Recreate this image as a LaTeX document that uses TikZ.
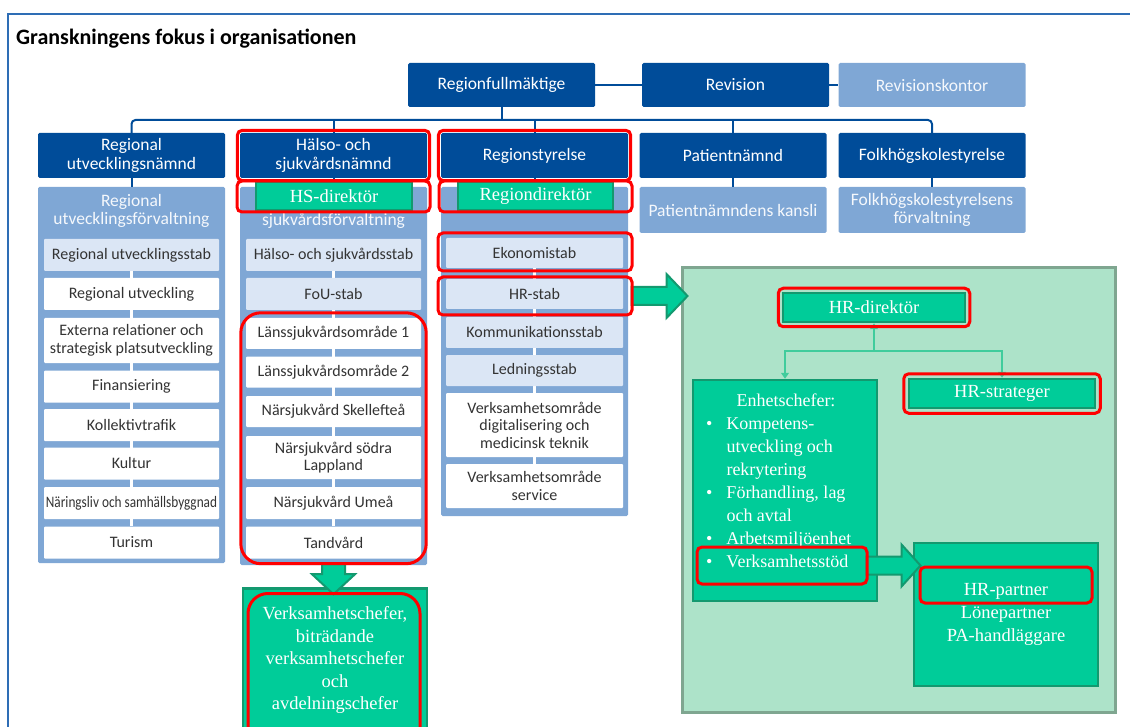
\documentclass[tikz,border=0pt]{standalone}
\usepackage{fontspec}
\setmainfont{Liberation Serif}
\setsansfont{Carlito}
\usepackage{graphicx}
\usepackage{tikz}
\usetikzlibrary{positioning,arrows.meta,fit,backgrounds}
\definecolor{morkbla}{HTML}{004C99}
\definecolor{ljusbla}{HTML}{7FA7D5}
\definecolor{blekbla}{HTML}{DBE6F5}
\definecolor{ramblaa}{HTML}{2E6DB5}
\definecolor{gron}{HTML}{00CC99}
\definecolor{morkgron}{HTML}{13996F}
\definecolor{ljusgron}{HTML}{ADE3C9}
\definecolor{grakant}{HTML}{7FA690}
\definecolor{linjegron}{HTML}{40CC9C}
\definecolor{textgra}{HTML}{333333}
\definecolor{markrod}{HTML}{FF0000}
\pgfdeclarelayer{forgrunn}
\pgfsetlayers{background,main,forgrunn}

\begin{document}
\begin{tikzpicture}[x=1pt,y=-1pt,>={Triangle[length=6pt,width=8pt]}]
    \tikzset{
        namnd/.style={
            fill=morkbla,
            text=white,
            rounded corners=1.5pt,
            minimum width=187,
            minimum height=45,
            inner sep=0,
            align=center,
            font=\sffamily\fontsize{17.5}{18.5}\selectfont
        },
        forv/.style={
            namnd,
            fill=ljusbla,
            text=white!92!ljusbla
        },
        panel/.style={
            fill=ljusbla,
            rounded corners=1.5pt,
            minimum width=187,
            inner sep=0
        },
        panelrubrik/.style={
            text=white!92!ljusbla,
            align=center,
            inner sep=0,
            font=\sffamily\fontsize{17.5}{18.5}\selectfont
        },
        enhet/.style={
            fill=white,
            text=textgra,
            rounded corners=1pt,
            minimum width=175,
            minimum height=32,
            inner sep=0,
            align=center,
            font=\sffamily\fontsize{16}{17.5}\selectfont
        },
        stab/.style={
            enhet,
            fill=blekbla
        },
        buss/.style={
            draw=morkbla,
            line width=2pt
        },
        vitlinje/.style={
            draw=white,
            line width=3pt
        },
        markering/.style={
            draw=markrod,
            line width=3pt,
            rounded corners=5pt,
            inner sep=0
        },
        gronbox/.style={
            fill=gron,
            draw=morkgron,
            line width=2.5pt,
            text=white,
            inner sep=0,
            align=center,
            font=\rmfamily\fontsize{18.5}{23}\selectfont
        },
        gronfont/.style={
            text=white,
            inner sep=0,
            align=center,
            font=\rmfamily\fontsize{18}{23}\selectfont
        },
        blockpil/.style={
            fill=gron,
            draw=morkgron,
            line width=2pt
        },
        hrram/.style={
            fill=ljusgron,
            draw=grakant,
            line width=3pt,
            inner sep=0
        },
        hrlinje/.style={
            draw=linjegron,
            line width=1.2pt
        }
    }
    \useasboundingbox (0,0) rectangle (1130,727);

    % Ram och rubrik
    \draw[draw=ramblaa, line width=2pt] (8,740) |- (1140,14);
    \node[anchor=west, inner sep=0, font=\sffamily\bfseries\fontsize{22}{24}\selectfont] (tittel) at (16,39) {Granskningens fokus i organisationen};

    % Fullmaktige och revision
    \node[namnd, minimum height=44] (fullm) at (501.5,85) {Regionfullmäktige};
    \node[namnd, minimum height=44] (rev)   at (735.5,85) {Revision};
    \node[forv, minimum height=44]  (revk)  at (932,85)   {Revisionskontor};

    % Namnder
    \node[namnd] (rutn)  at (131.5,155.5) {Regional\\utvecklingsnämnd};
    \node[namnd] (hsn)   at (333.5,155.5) {Hälso- och\\sjukvårdsnämnd};
    \node[namnd] (rs)    at (534.5,155.5) {Regionstyrelse};
    \node[namnd] (patn)  at (733,155.5)   {Patientnämnd};
    \node[namnd] (folkn) at (932,155.5)   {Folkhögskolestyrelse};

    % Forvaltningar
    \node[forv, minimum height=46] (patf)  at (733,210) {Patientnämndens kansli};
    \node[forv, minimum height=46] (folkf) at (932,210) {Folkhögskolestyrelsens\\förvaltning};
    \node[panelrubrik] (rutft) at (131.5,211) {Regional\\utvecklingsförvaltning};
    \node[panelrubrik] (hsft)  at (333.5,212) {Hälso- och\\sjukvårdsförvaltning};
    \node[panelrubrik] (rsft)  at (534.5,202) {Regionförvaltning};

    % Regional utvecklingsforvaltning
    \node[stab]  (ru1) at (131.5,255)   {Regional utvecklingsstab};
    \node[enhet] (ru2) at (131.5,294)   {Regional utveckling};
    \node[enhet, minimum height=45] (ru3) at (131.5,340.5) {Externa relationer och\\strategisk platsutveckling};
    \node[enhet] (ru4) at (131.5,386.5) {Finansiering};
    \node[enhet] (ru5) at (131.5,425)   {Kollektivtrafik};
    \node[enhet] (ru6) at (131.5,463.5) {Kultur};
    \node[enhet] (ru7) at (131.5,503)   {\scalebox{0.83}[1]{Näringsliv och samhällsbyggnad}};
    \node[enhet] (ru8) at (131.5,542.5) {Turism};

    % Halso- och sjukvardsforvaltning
    \node[stab]  (hs1) at (333.5,255)   {Hälso- och sjukvårdsstab};
    \node[stab]  (hs2) at (333.5,294)   {FoU-stab};
    \node[enhet, minimum height=31] (hs3) at (333.5,333.5) {Länssjukvårdsområde 1};
    \node[enhet, minimum height=31] (hs4) at (333.5,372)   {Länssjukvårdsområde 2};
    \node[enhet, minimum height=31] (hs5) at (333.5,411.5) {Närsjukvård Skellefteå};
    \node[enhet, minimum height=43] (hs6) at (333.5,457.5) {Närsjukvård södra\\Lappland};
    \node[enhet] (hs7) at (333.5,503)   {Närsjukvård Umeå};
    \node[enhet] (hs8) at (333.5,542.5) {Tandvård};

    % Regionforvaltning
    \node[stab, minimum width=177, minimum height=30] (rf1) at (534.5,253)   {Ekonomistab};
    \node[stab, minimum width=177, minimum height=30] (rf2) at (534.5,294)   {HR-stab};
    \node[stab, minimum width=177, minimum height=31] (rf3) at (534.5,332.5) {Kommunikationsstab};
    \node[stab, minimum width=177, minimum height=31] (rf4) at (534.5,370.5) {Ledningsstab};
    \node[enhet, minimum width=177, minimum height=64] (rf5) at (534.5,425) {Verksamhetsområde\\digitalisering och\\medicinsk teknik};
    \node[enhet, minimum width=177, minimum height=44] (rf6) at (534.5,486) {Verksamhetsområde\\service};

    \begin{scope}[on background layer]
        \node[panel, minimum height=376] (rutf) at (131.5,375)   {};
        \node[panel, minimum height=378] (hsf)  at (333.5,376)   {};
        \node[panel, minimum height=329] (rsf)  at (534.5,351.5) {};
        \draw[vitlinje] (ru1) -- (ru8);
        \draw[vitlinje] (hs1) -- (hs8);
        \draw[vitlinje] (rf1) -- (rf6);
    \end{scope}

    % Linjer
    \coordinate (buss) at (501.5,120);
    \draw[buss] (fullm) -- (rev);
    \draw[buss] (rev) -- (revk);
    \draw[buss] (fullm.south) -- (buss);
    \draw[buss, rounded corners=4pt] (rutn.north) |- (buss) -| (folkn.north);
    \draw[buss] (hsn.north) -- (hsn.north |- buss);
    \draw[buss] (rs.north) -- (rs.north |- buss);
    \draw[buss] (patn.north) -- (patn.north |- buss);
    \draw[buss] (rutn) -- (rutf);
    \draw[buss] (hsn) -- (hsf);
    \draw[buss] (rs) -- (rsf);
    \draw[buss] (patn) -- (patf);
    \draw[buss] (folkn) -- (folkf);

    % Direktorer
    \node[gronbox, minimum width=156, minimum height=28] (hsdir) at (334,196)   {HS-direktör};
    \node[gronbox, minimum width=155, minimum height=28] (rdir)  at (535.5,196) {Regiondirektör};

    % Verksamhetschefer
    \node[gronbox, minimum width=184, minimum height=185, anchor=north] (vchef) at (335,587) {};
    \node[gronfont, font=\rmfamily\fontsize{18.5}{22.5}\selectfont] (vcheft) at (335,660) {Verksamhetschefer,\\biträdande\\verksamhetschefer\\och\\avdelningschefer};

    % HR-omradet
    \node[hrram, minimum width=433, minimum height=444] (hromr) at (898.5,490) {};
    \node[gronbox, minimum width=182, minimum height=29] (hrdir)   at (874,307.5)  {HR-direktör};
    \node[gronbox, minimum width=186, minimum height=29] (strat)   at (1002,393.5) {HR-strateger};
    \node[gronbox, minimum width=184, minimum height=221] (enhet)  at (785,490.5)  {};
    \node[gronbox, minimum width=184, minimum height=143] (partner) at (1006,614.5) {HR-partner\\Lönepartner\\PA-handläggare};
    \node[gronfont] (enhett) at (786,400) {Enhetschefer:};
    \node[gronfont, anchor=north west, align=left] (enhetl) at (706,413) {%
        \begin{tabular}{@{}c@{\hspace{14pt}}l@{}}
            \textbullet & Kompetens-\\
                        & utveckling och\\
                        & rekrytering\\
            \textbullet & Förhandling, lag\\
                        & och avtal\\
            \textbullet & Arbetsmiljöenhet\\
            \textbullet & Verksamhetsstöd
        \end{tabular}};

    \coordinate (gren) at (874,351);
    \draw[hrlinje, ->] (gren) -- (hrdir.south);
    \draw[hrlinje, ->] (gren) -| (enhet.north);
    \draw[hrlinje, ->] (gren) -| (strat.north);

    % Markeringar
    \begin{pgfonlayer}{forgrunn}
        \node[markering, fit=(hsn), inner sep=2.5pt] (hsnr) {};
        \node[markering, fit=(rs), inner sep=2.5pt]  (rsr)  {};
        \node[markering, minimum width=193, minimum height=31] (hsdirr) at (333.5,196.5) {};
        \node[markering, minimum width=193, minimum height=31] (rdirr)  at (535.5,196.5) {};
        \node[markering, minimum width=194, minimum height=38] (ekor)   at (535,252)     {};
        \node[markering, minimum width=194, minimum height=38] (hrr)    at (535,296)     {};
        \node[markering, fit=(hs3)(hs8), inner sep=5pt, rounded corners=20pt] (hsr) {};
        \node[markering, fit=(hrdir), inner sep=3.5pt] (hrdirr) {};
        \node[markering, fit=(strat), inner sep=4pt]   (stratr) {};
        \node[markering, minimum width=170, minimum height=37] (vstodr)   at (782,565.5) {};
        \node[markering, minimum width=172, minimum height=36] (partnerr) at (1006,585)  {};
        \node[markering, rounded corners=20pt, minimum width=172, minimum height=170, anchor=north] (vchefr) at (334,592) {};
    \end{pgfonlayer}

    % Blockpilar
    \draw[blockpil] (hrr.east) ++(-2,-9) -- ++(35,0) -- ++(0,-13) -- ++(21,22) -- ++(-21,22) -- ++(0,-13) -- ++(-35,0) -- cycle;
    \draw[blockpil] (vstodr.east) ++(-2,-9) -- ++(35,0) -- ++(0,-12) -- ++(19,21) -- ++(-19,21) -- ++(0,-12) -- ++(-35,0) -- cycle;
    \draw[blockpil] (hsr.south) ++(-11.5,-1) -- ++(0,10) -- ++(-10,0) -- ++(21.5,20) -- ++(21.5,-20) -- ++(-10,0) -- ++(0,-10) -- cycle;
\end{tikzpicture}
\end{document}
